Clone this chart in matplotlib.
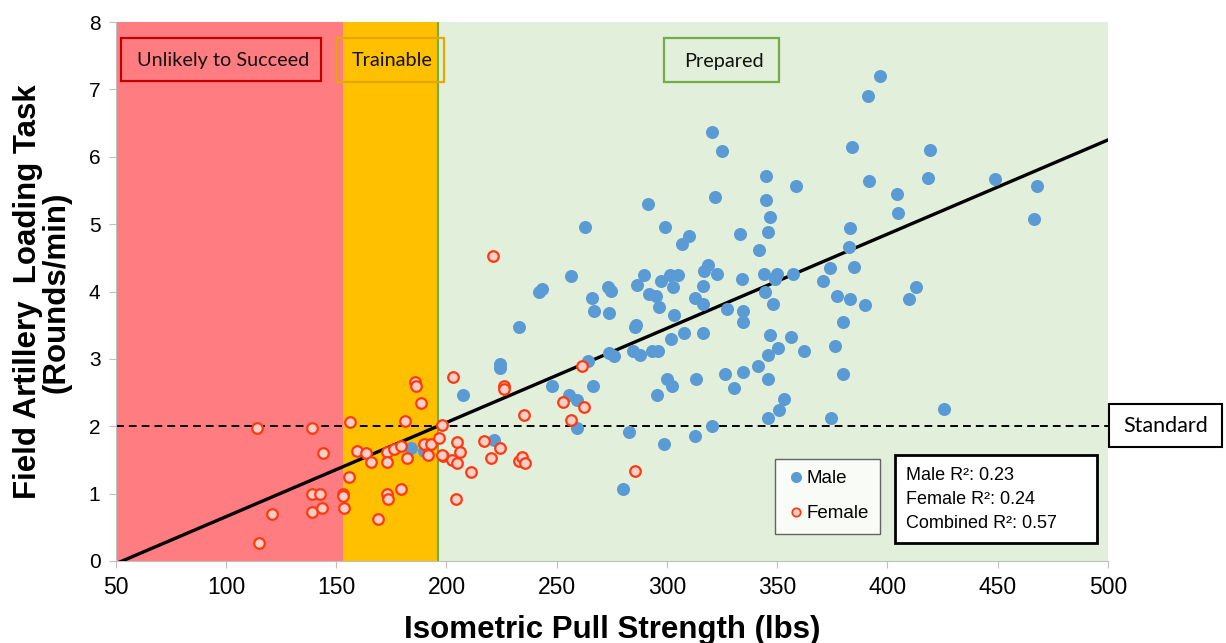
import matplotlib
matplotlib.use("Agg")
import matplotlib.pyplot as plt
from matplotlib.patches import Rectangle
from matplotlib.lines import Line2D

# --- data ---
male_x = [396.5, 391.3, 384.1, 419.4, 391.8, 418.5, 448.7, 467.8, 404.2, 404.6,
          466.4, 383.0, 382.6, 384.8, 412.9, 409.9, 383.0, 390.0, 425.5, 320.5,
          324.9, 344.8, 358.7, 291.6, 321.8, 344.8, 346.5, 345.6, 299.3, 310.1,
          306.6, 333.1, 341.6, 289.6, 301.4, 305.1, 297.5, 302.8, 318.8, 316.9,
          322.6, 316.3, 334.0, 343.8, 349.8, 348.9, 357.2, 374.1, 370.6, 292.0,
          294.8, 312.9, 316.3, 296.3, 303.3, 327.4, 334.4, 334.7, 344.6, 348.1,
          377.1, 379.7, 301.9, 307.9, 316.3, 346.9, 356.3, 376.2, 362.3, 350.4,
          346.0, 287.7, 293.0, 296.0, 379.8, 341.2, 345.7, 334.4, 326.5, 330.5,
          313.2, 300.2, 302.4, 295.6, 353.1, 350.9, 346.0, 374.6, 320.5, 312.8,
          298.8, 262.8, 256.6, 286.4, 242.1, 243.5, 273.2, 274.4, 266.1, 267.0,
          273.8, 285.9, 285.3, 232.9, 273.5, 276.1, 284.4, 264.2, 224.4, 224.1,
          248.0, 266.4, 207.4, 255.7, 259.3, 259.2, 282.9, 221.7, 279.9, 184.1,
          189.9]
male_y = [7.20, 6.90, 6.14, 6.10, 5.64, 5.68, 5.67, 5.57, 5.45, 5.17,
          5.08, 4.94, 4.66, 4.36, 4.06, 3.89, 3.89, 3.80, 2.25, 6.36,
          6.09, 5.71, 5.57, 5.30, 5.41, 5.36, 5.11, 4.88, 4.96, 4.83,
          4.70, 4.86, 4.62, 4.24, 4.24, 4.24, 4.15, 4.07, 4.39, 4.30,
          4.26, 4.08, 4.19, 4.26, 4.26, 4.18, 4.26, 4.35, 4.16, 3.97,
          3.94, 3.90, 3.82, 3.77, 3.65, 3.74, 3.71, 3.54, 3.99, 3.81,
          3.94, 3.55, 3.29, 3.38, 3.38, 3.35, 3.32, 3.19, 3.12, 3.16,
          3.06, 3.06, 3.11, 3.11, 2.78, 2.90, 2.70, 2.81, 2.77, 2.57,
          2.70, 2.70, 2.60, 2.47, 2.41, 2.24, 2.12, 2.12, 2.00, 1.86,
          1.73, 4.96, 4.23, 4.10, 4.00, 4.04, 4.07, 4.01, 3.90, 3.71,
          3.68, 3.50, 3.48, 3.47, 3.09, 3.04, 3.11, 2.97, 2.93, 2.86,
          2.60, 2.60, 2.46, 2.47, 2.39, 1.97, 1.91, 1.80, 1.07, 1.67,
          1.63]

female_x = [114.2, 139.1, 156.3, 143.8, 155.6, 139.1, 142.7, 152.9, 153.2, 121.0,
            139.1, 143.5, 153.6, 115.0, 159.4, 163.4, 166.0, 173.2, 176.1, 179.3,
            173.2, 182.3, 168.9, 173.2, 173.7, 179.3, 181.4, 185.6, 186.4, 188.5,
            189.9, 193.0, 191.8, 196.7, 197.8, 198.6, 197.8, 202.8, 204.8, 206.1,
            202.7, 205.0, 211.2, 204.4, 216.9, 224.3, 220.3, 226.0, 226.2, 232.7,
            234.4, 235.6, 221.3, 235.3, 252.7, 261.6, 262.2, 256.6, 285.5]
female_y = [1.98, 1.98, 2.07, 1.60, 1.24, 0.99, 0.99, 1.00, 0.96, 0.70,
            0.72, 0.79, 0.78, 0.27, 1.63, 1.60, 1.47, 1.62, 1.66, 1.70,
            1.47, 1.53, 0.63, 0.99, 0.92, 1.07, 2.08, 2.65, 2.59, 2.34,
            1.73, 1.73, 1.57, 1.83, 2.02, 1.56, 1.58, 2.73, 1.77, 1.62,
            1.50, 1.46, 1.32, 0.92, 1.78, 1.68, 1.53, 2.59, 2.55, 1.49,
            1.54, 1.46, 4.52, 2.17, 2.36, 2.90, 2.28, 2.09, 1.33]

zone_edges = [50, 153, 196, 500]
zone_names = ["Unlikely to Succeed", "Trainable", "Prepared"]
standard = 2.0
fit_slope = 0.01398
fit_intercept = -0.74
r2_labels = ["Male R²: 0.23", "Female R²: 0.24", "Combined R²: 0.57"]

W, H = 1226, 643
fig = plt.figure(figsize=(W / 100, H / 100), dpi=100)
ax = fig.add_axes([115.7 / W, 1 - 561 / H, (1108 - 115.7) / W, (561 - 22) / H])

def fx(px):
    return px / W

def fy(py):
    return 1 - py / H

def fig_box(x0, y0, x1, y1, ec, lw=1.5, fc="none"):
    r = Rectangle((fx(x0), fy(y1)), fx(x1) - fx(x0), fy(y0) - fy(y1),
                  transform=fig.transFigure, fc=fc, ec=ec, lw=lw, zorder=10)
    fig.add_artist(r)

# background zones
zone_colors = ["#FF7C80", "#FFC000", "#E2EFDA"]
for i in range(3):
    ax.axvspan(zone_edges[i], zone_edges[i + 1], color=zone_colors[i], lw=0, zorder=0)
ax.axvline(zone_edges[2], color="#70AD47", lw=1.5, zorder=1)

# lines
ax.axhline(standard, color="black", lw=1.4, ls=(0, (4, 2.6)), zorder=2)
xs = [zone_edges[0], zone_edges[-1]]
ax.plot(xs, [fit_slope * x + fit_intercept for x in xs], color="black", lw=2.4, zorder=3)

# points
ax.scatter(male_x, male_y, s=88, color="#5B9BD5", lw=0, zorder=4)
ax.scatter(female_x, female_y, s=58, facecolor="#FBCFC8", edgecolor="#FF3A0F",
           lw=1.6, zorder=5)

ax.set_xlim(50, 500)
ax.set_ylim(0, 8)
ax.set_xticks(range(50, 501, 50))
ax.set_yticks(range(0, 9))
for s in ["top", "right"]:
    ax.spines[s].set_visible(False)
for s in ["left", "bottom"]:
    ax.spines[s].set_color("#BFBFBF")
ax.tick_params(axis="both", direction="out", length=5, color="#BFBFBF")
ax.tick_params(axis="x", labelsize=16.5, pad=6)
ax.tick_params(axis="y", labelsize=15, pad=6)
for lab in ax.get_xticklabels() + ax.get_yticklabels():
    lab.set_fontfamily("Liberation Sans")

# axis titles
fig.text(fx(612), fy(638), "Isometric Pull Strength (lbs)", ha="center", va="baseline",
         fontsize=22.5, fontweight="bold", family="Liberation Sans")
fig.text(fx(42), fy(292), "Field Artillery  Loading Task\n(Rounds/min)", ha="center",
         va="center", rotation=90, fontsize=22.5, fontweight="bold",
         family="Liberation Sans", linespacing=0.92, multialignment="center")

# zone label boxes
label_boxes = [(121, 38, 321, 81, "#C00000"), (337, 38, 444, 82, "#E6A800"),
               (664, 38, 779, 82, "#70AD47")]
for (x0, y0, x1, y1, ec), name in zip(label_boxes, zone_names):
    fig_box(x0, y0, x1, y1, ec, lw=1.6)
    fig.text(fx((x0 + x1) / 2 + 2), fy((y0 + y1) / 2 + 1), name, ha="center", va="center",
             fontsize=14.3, family="Lato", color="#111111", zorder=11)

# Standard label
fig_box(1109, 404, 1222, 447, "black", lw=1.5, fc="white")
fig.text(fx(1166), fy(426), "Standard", ha="center", va="center", fontsize=15.5,
         family="Lato", zorder=11)

# legend
handles = [Line2D([], [], ls="none", marker="o", ms=7, mfc="#5B9BD5", mec="#5B9BD5"),
           Line2D([], [], ls="none", marker="o", ms=6, mfc="#FBCFC8", mec="#FF3A0F", mew=1.3)]
leg = ax.legend(handles, ["Male", "Female"], loc="upper left",
                bbox_to_anchor=(fx(775), fy(459)), bbox_transform=fig.transFigure,
                frameon=True, fancybox=False, borderpad=0.6, handletextpad=0.1,
                handlelength=1.0, labelspacing=0.95, borderaxespad=0,
                prop={"family": "Liberation Sans", "size": 13.5})
leg.get_frame().set_edgecolor("#404040")
leg.get_frame().set_linewidth(1.0)
leg.set_zorder(12)

# R2 box
fig_box(895, 455, 1097, 543, "black", lw=2.0, fc="white")
for i, t in enumerate(r2_labels):
    fig.text(fx(906), fy(475 + 24.5 * i), t, ha="left", va="center", fontsize=13,
             family="Liberation Sans", zorder=11)

fig.savefig("out.png", dpi=100)
